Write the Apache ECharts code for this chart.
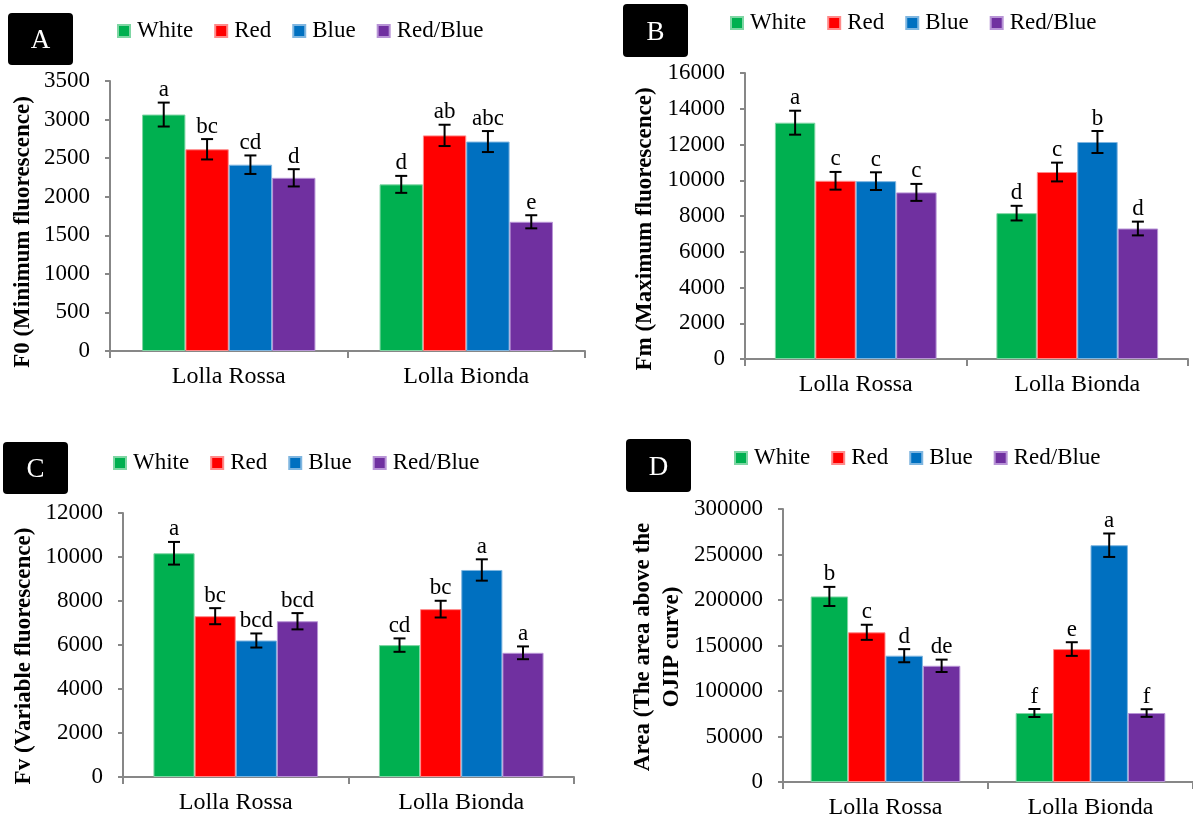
<!DOCTYPE html>
<html>
<head>
<meta charset="utf-8">
<script src="https://cdn.jsdelivr.net/npm/echarts@6/dist/echarts.min.js"></script>
<style>html,body{margin:0;padding:0;background:#fff}#c{width:1193px;height:820px}</style>
</head>
<body>
<div id="c"></div>
<script>
// ---------- data ----------
const categories = ['Lolla Rossa', 'Lolla Bionda'];
const seriesNames = ['White', 'Red', 'Blue', 'Red/Blue'];

// Panel A: F0 (Minimum fluorescence)
const f0White = [3065, 2160];
const f0Red = [2615, 2795];
const f0Blue = [2415, 2715];
const f0RedBlue = [2245, 1675];
const f0WhiteErr = [155, 110];
const f0RedErr = [132, 138];
const f0BlueErr = [120, 136];
const f0RedBlueErr = [112, 85];
const f0WhiteSig = ['a', 'd'];
const f0RedSig = ['bc', 'ab'];
const f0BlueSig = ['cd', 'abc'];
const f0RedBlueSig = ['d', 'e'];
const f0Ticks = [0, 3500, 500];

// Panel B: Fm (Maximum fluorescence)
const fmWhite = [13220, 8160];
const fmRed = [9970, 10460];
const fmBlue = [9950, 12140];
const fmRedBlue = [9320, 7300];
const fmWhiteErr = [670, 410];
const fmRedErr = [495, 525];
const fmBlueErr = [495, 615];
const fmRedBlueErr = [475, 385];
const fmWhiteSig = ['a', 'd'];
const fmRedSig = ['c', 'c'];
const fmBlueSig = ['c', 'b'];
const fmRedBlueSig = ['c', 'd'];
const fmTicks = [0, 16000, 2000];

// Panel C: Fv (Variable fluorescence)
const fvWhite = [10170, 5995];
const fvRed = [7310, 7630];
const fvBlue = [6205, 9410];
const fvRedBlue = [7080, 5645];
const fvWhiteErr = [515, 305];
const fvRedErr = [365, 380];
const fvBlueErr = [320, 485];
const fvRedBlueErr = [370, 290];
const fvWhiteSig = ['a', 'cd'];
const fvRedSig = ['bc', 'bc'];
const fvBlueSig = ['bcd', 'a'];
const fvRedBlueSig = ['bcd', 'a'];
const fvTicks = [0, 12000, 2000];

// Panel D: Area above the OJIP curve
const areaWhite = [203900, 75800];
const areaRed = [164500, 146100];
const areaBlue = [138800, 260200];
const areaRedBlue = [127700, 75800];
const areaWhiteErr = [10500, 4400];
const areaRedErr = [8300, 7500];
const areaBlueErr = [7200, 12900];
const areaRedBlueErr = [6800, 4200];
const areaWhiteSig = ['b', 'f'];
const areaRedSig = ['c', 'e'];
const areaBlueSig = ['d', 'a'];
const areaRedBlueSig = ['de', 'f'];
const areaTicks = [0, 300000, 50000];

// ---------- styling / layout ----------
const colors = ['#00B050', '#FF0000', '#0070C0', '#7030A0'];
const borders = ['#7fd6a4', '#ff8a8a', '#7fb6e0', '#b894d6'];
const FONT = 'Liberation Serif';
const GAP = 0.27;
const AXIS_COLOR = '#878787';

const panels = [
  { letter: 'A', title: ['F0 (Minimum fluorescence)'], titleX: [23], titleY: 232,
    grid: { left: 110, top: 81, width: 475, height: 270 }, box: [8, 13, 65, 52],
    legend: { left: 117, top: 19 }, ticks: f0Ticks,
    vals: [f0White, f0Red, f0Blue, f0RedBlue], errs: [f0WhiteErr, f0RedErr, f0BlueErr, f0RedBlueErr],
    sigs: [f0WhiteSig, f0RedSig, f0BlueSig, f0RedBlueSig] },
  { letter: 'B', title: ['Fm (Maximum fluorescence)'], titleX: [645], titleY: 229,
    grid: { left: 745, top: 73, width: 443, height: 286 }, box: [623, 4, 65, 53],
    legend: { left: 730, top: 11 }, ticks: fmTicks,
    vals: [fmWhite, fmRed, fmBlue, fmRedBlue], errs: [fmWhiteErr, fmRedErr, fmBlueErr, fmRedBlueErr],
    sigs: [fmWhiteSig, fmRedSig, fmBlueSig, fmRedBlueSig] },
  { letter: 'C', title: ['Fv (Variable fluorescence)'], titleX: [24], titleY: 656,
    grid: { left: 123, top: 513, width: 451, height: 264 }, box: [3, 442, 65, 52],
    legend: { left: 113, top: 451 }, ticks: fvTicks,
    vals: [fvWhite, fvRed, fvBlue, fvRedBlue], errs: [fvWhiteErr, fvRedErr, fvBlueErr, fvRedBlueErr],
    sigs: [fvWhiteSig, fvRedSig, fvBlueSig, fvRedBlueSig] },
  { letter: 'D', title: ['Area (The area above the', 'OJIP curve)'], titleX: [643, 672], titleY: 647,
    grid: { left: 783, top: 509, width: 412, height: 273 }, box: [626, 439, 65, 53],
    legend: { left: 734, top: 446 }, ticks: areaTicks,
    vals: [areaWhite, areaRed, areaBlue, areaRedBlue], errs: [areaWhiteErr, areaRedErr, areaBlueErr, areaRedBlueErr],
    sigs: [areaWhiteSig, areaRedSig, areaBlueSig, areaRedBlueSig] }
];

const grids = [], xAxes = [], yAxes = [], series = [], legends = [], graphics = [];

panels.forEach((p, pi) => {
  grids.push(Object.assign({ containLabel: false }, p.grid));
  xAxes.push({
    type: 'category', gridIndex: pi, data: categories,
    axisLine: { show: true, lineStyle: { color: AXIS_COLOR, width: 2 } },
    axisTick: { show: true, length: 7, lineStyle: { color: AXIS_COLOR, width: 2 } },
    axisLabel: { color: '#000', fontFamily: FONT, fontSize: 24, margin: 14 },
    splitLine: { show: false }
  });
  yAxes.push({
    type: 'value', gridIndex: pi, min: p.ticks[0], max: p.ticks[1], interval: p.ticks[2],
    axisLine: { show: true, lineStyle: { color: AXIS_COLOR, width: 2 } },
    axisTick: { show: true, length: 5, lineStyle: { color: AXIS_COLOR, width: 2 } },
    axisLabel: { color: '#000', fontFamily: FONT, fontSize: 23, margin: 20,
      formatter: function (v) { return String(v); } },
    splitLine: { show: false }
  });
  legends.push({
    left: p.legend.left, top: p.legend.top, orient: 'horizontal', padding: 0,
    icon: 'rect', itemWidth: 12, itemHeight: 12, itemGap: 21,
    data: seriesNames, selectedMode: false,
    textStyle: { color: '#000', fontFamily: FONT, fontSize: 23, lineHeight: 24, padding: [0, 0, 0, 2] }
  });
  seriesNames.forEach((name, si) => {
    series.push({
      name: name, type: 'bar', xAxisIndex: pi, yAxisIndex: pi,
      data: p.vals[si], barGap: '0%', barCategoryGap: (GAP * 100) + '%',
      itemStyle: { color: colors[si], borderColor: borders[si], borderWidth: 1 },
      emphasis: { disabled: true }, animation: false
    });
  });
  seriesNames.forEach((name, si) => {
    const errs = p.errs[si], sigs = p.sigs[si];
    series.push({
      type: 'custom', xAxisIndex: pi, yAxisIndex: pi, silent: true, z: 10, animation: false,
      data: p.vals[si].map((v, i) => [i, v, errs[i]]),
      renderItem: function (params, api) {
        const ci = api.value(0), v = api.value(1), e = api.value(2);
        const band = api.size([1, 0])[0];
        const rem = band * (1 - GAP);
        const bw = rem / 4;
        const x = api.coord([ci, v])[0] - rem / 2 + bw * (si + 0.5);
        const yHi = api.coord([ci, v + e])[1];
        const yLo = api.coord([ci, v - e])[1];
        const ls = { stroke: '#000', lineWidth: 2 };
        return {
          type: 'group', children: [
            { type: 'line', shape: { x1: x, y1: yHi, x2: x, y2: yLo }, style: ls },
            { type: 'line', shape: { x1: x - 6, y1: yHi, x2: x + 6, y2: yHi }, style: ls },
            { type: 'line', shape: { x1: x - 6, y1: yLo, x2: x + 6, y2: yLo }, style: ls },
            { type: 'text', style: { text: sigs[params.dataIndex], x: x, y: yHi - 1,
                align: 'center', verticalAlign: 'bottom', textAlign: 'center', textVerticalAlign: 'bottom',
                fill: '#000', font: '23px "' + FONT + '"' } }
          ]
        };
      }
    });
  });
  // panel letter box
  graphics.push({
    type: 'rect', left: p.box[0], top: p.box[1], silent: true,
    shape: { x: 0, y: 0, width: p.box[2], height: p.box[3], r: 4 },
    style: { fill: '#000' }
  });
  graphics.push({
    type: 'text', x: p.box[0] + p.box[2] / 2, y: p.box[1] + p.box[3] / 2 + 2, silent: true,
    style: { text: p.letter, fill: '#fff', font: '27px "' + FONT + '"',
      align: 'center', verticalAlign: 'middle', textAlign: 'center', textVerticalAlign: 'middle' }
  });
  // y axis title(s)
  p.title.forEach((t, ti) => {
    graphics.push({
      type: 'text', x: p.titleX[ti], y: p.titleY, rotation: Math.PI / 2, silent: true,
      style: { text: t, fill: '#000', font: 'bold 23px "' + FONT + '"',
        align: 'center', verticalAlign: 'middle', textAlign: 'center', textVerticalAlign: 'middle' }
    });
  });
});

const chart = echarts.init(document.getElementById('c'), null, { renderer: 'canvas' });
chart.setOption({
  backgroundColor: '#fff',
  animation: false,
  grid: grids, xAxis: xAxes, yAxis: yAxes, legend: legends, series: series,
  graphic: { elements: graphics }
});
</script>
</body>
</html>
